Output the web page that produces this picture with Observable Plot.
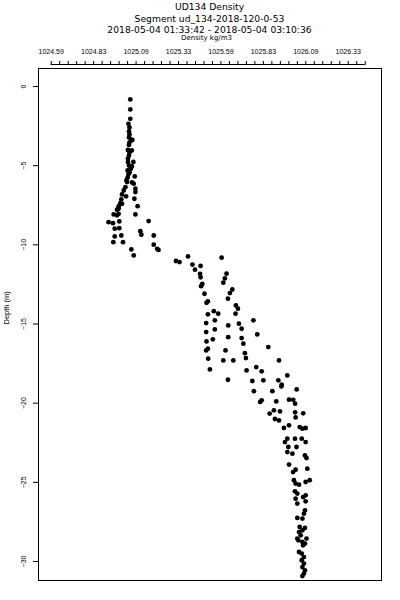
<!DOCTYPE html>
<html>
<head>
<meta charset="utf-8">
<script src="https://cdn.jsdelivr.net/npm/d3@7"></script>
<script src="https://cdn.jsdelivr.net/npm/@observablehq/plot@0.6"></script>
<style>
  html, body { margin: 0; padding: 0; background: #fff; }
  #wrap { width: 400px; height: 600px; position: relative; }
  #head { position: relative; width: 400px; height: 44px; font-family: "DejaVu Sans", sans-serif; }
  #head div { position: absolute; left: 0; width: 419px; text-align: center; color: #000; line-height: 1; white-space: nowrap; }
  #chart svg { display: block; }
</style>
</head>
<body>
<div id="wrap">
  <div id="head">
    <div id="t1" style="top:2px;font-size:9.2px;">UD134 Density</div>
    <div id="t2" style="top:13.8px;font-size:9.2px;">Segment ud_134-2018-120-0-53</div>
    <div id="t3" style="top:25.3px;font-size:9.2px;">2018-05-04 01:33:42 - 2018-05-04 03:10:36</div>
    <div id="t4" style="top:35.4px;font-size:7px;width:413px;">Density kg/m3</div>
  </div>
  <div id="chart"></div>
</div>
<script>
// ---- data ----
const density = [
  1025.051, 1025.051, 1025.051, 1025.040, 1025.046, 1025.043, 1025.046, 1025.043, 1025.054, 1025.063,
  1025.046, 1025.043, 1025.060, 1025.037, 1025.046, 1025.043, 1025.037, 1025.037, 1025.069, 1025.060,
  1025.043, 1025.054, 1025.035, 1025.047, 1025.040, 1025.077, 1025.035, 1025.028, 1025.061, 1025.032,
  1025.071, 1025.022, 1025.081, 1025.012, 1025.081, 1025.002, 1025.026, 1025.075, 1024.998, 1024.992,
  1025.002, 1025.094, 1024.982, 1024.973, 1024.982, 1024.953, 1024.973, 1024.982, 1025.081, 1024.923,
  1024.949, 1024.986, 1025.159, 1024.959, 1024.986, 1025.110, 1025.116, 1024.998, 1024.959, 1025.189,
  1024.951, 1025.008, 1025.189, 1025.209, 1025.217, 1025.057, 1025.071, 1025.391, 1025.589, 1025.320,
  1025.341, 1025.417, 1025.465, 1025.432, 1025.462, 1025.465, 1025.618, 1025.608, 1025.599, 1025.475,
  1025.468, 1025.652, 1025.638, 1025.488, 1025.626, 1025.500, 1025.508, 1025.673, 1025.685, 1025.543,
  1025.569, 1025.508, 1025.671, 1025.498, 1025.549, 1025.776, 1025.628, 1025.691, 1025.498, 1025.549,
  1025.707, 1025.799, 1025.500, 1025.537, 1025.628, 1025.707, 1025.717, 1025.498, 1025.508, 1025.612,
  1025.726, 1025.864, 1025.510, 1025.599, 1025.658, 1025.732, 1025.927, 1025.520, 1025.736, 1025.793,
  1025.825, 1025.626, 1025.770, 1025.835, 1025.923, 1025.976, 1025.943, 1025.941, 1025.779, 1025.888,
  1026.031, 1025.816, 1025.825, 1025.911, 1025.986, 1026.011, 1026.022, 1025.872, 1025.897, 1025.933,
  1026.022, 1026.070, 1025.903, 1026.025, 1025.927, 1025.986, 1025.956, 1026.049, 1026.084, 1026.065,
  1025.976, 1025.962, 1026.021, 1026.061, 1026.084, 1025.982, 1026.030, 1025.976, 1026.006, 1026.080,
  1026.089, 1025.986, 1026.010, 1026.025, 1026.094, 1026.015, 1026.025, 1026.045, 1026.084, 1026.108,
  1026.021, 1026.035, 1026.069, 1026.084, 1026.025, 1026.084, 1026.035, 1026.080, 1026.074, 1026.035,
  1026.065, 1026.049, 1026.080, 1026.065, 1026.045, 1026.055, 1026.089, 1026.041, 1026.065, 1026.080,
  1026.069, 1026.035, 1026.045, 1026.061, 1026.074, 1026.061, 1026.074, 1026.065, 1026.080, 1026.074,
  1026.065
];
const depth = [
  -0.82, -1.45, -2.04, -2.36, -2.59, -2.84, -3.03, -3.22, -3.35, -3.38,
  -3.54, -3.69, -4.04, -4.01, -4.17, -4.36, -4.55, -4.77, -4.77, -5.05,
  -4.99, -5.20, -5.30, -5.43, -5.56, -5.68, -5.76, -5.93, -6.06, -6.04,
  -6.14, -6.36, -6.46, -6.57, -6.67, -6.82, -6.94, -7.09, -7.13, -7.37,
  -7.41, -7.56, -7.58, -7.78, -7.72, -8.08, -8.14, -8.04, -8.08, -8.57,
  -8.63, -8.52, -8.50, -8.98, -8.95, -9.14, -9.36, -9.41, -9.47, -9.41,
  -9.83, -9.83, -9.99, -10.25, -10.32, -10.29, -10.67, -10.73, -10.81, -11.02,
  -11.09, -11.25, -11.33, -11.57, -11.84, -12.05, -11.82, -12.12, -12.39, -12.47,
  -12.61, -12.82, -13.05, -13.09, -13.40, -13.66, -13.57, -13.83, -14.03, -14.19,
  -14.35, -14.39, -14.35, -14.94, -14.77, -14.77, -15.09, -14.98, -15.51, -15.34,
  -15.30, -15.66, -16.10, -15.97, -15.83, -15.89, -16.24, -16.67, -16.56, -16.67,
  -16.84, -16.46, -17.19, -17.30, -17.30, -17.15, -17.30, -17.87, -17.93, -17.72,
  -17.99, -18.52, -18.60, -18.56, -18.56, -18.25, -18.83, -18.94, -19.24, -19.24,
  -19.13, -19.92, -19.82, -19.89, -19.78, -19.79, -20.03, -20.66, -20.45, -20.52,
  -20.58, -20.64, -21.00, -20.90, -21.09, -21.40, -21.57, -21.51, -21.57, -21.61,
  -22.24, -22.46, -22.24, -22.24, -22.46, -22.77, -22.77, -23.09, -23.19, -23.30,
  -23.47, -23.88, -24.35, -24.20, -24.14, -24.87, -25.08, -25.15, -24.98, -24.87,
  -25.57, -25.71, -25.93, -25.82, -26.03, -26.20, -26.34, -26.77, -26.98, -27.25,
  -27.29, -27.82, -27.88, -28.03, -28.14, -28.35, -28.55, -28.66, -28.77, -28.87,
  -28.98, -28.55, -29.40, -29.50, -29.72, -29.92, -30.13, -30.35, -30.56, -30.76,
  -30.92
];
// axis ticks
const xMajorTicks = [1024.585, 1024.835, 1025.085, 1025.335, 1025.585, 1025.835, 1026.085, 1026.335];
const xTickLabels = ["1024.59", "1024.83", "1025.09", "1025.33", "1025.59", "1025.83", "1026.09", "1026.33"];
const xMinorStep = 0.05;
const xMinorCount = 38;
const yTicks = [0, -5, -10, -15, -20, -25, -30];
const yLabel = "Depth (m)";

const points = density.map((d, i) => ({density: d, depth: depth[i]}));
const xMinorTicks = d3.range(xMinorCount).map(k => xMajorTicks[0] + k * xMinorStep);
const xDomain = [1024.510, 1026.531];
const yDomain = [-31.2, 1.136];

const chart = Plot.plot({
  width: 400,
  height: 556,
  marginTop: 24,
  marginBottom: 20,
  marginLeft: 38,
  marginRight: 19,
  style: {fontFamily: "'Liberation Sans', Arial, sans-serif", color: "#000", background: "#fff"},
  x: {domain: xDomain},
  y: {domain: yDomain},
  marks: [
    Plot.frame({stroke: "#000", strokeWidth: 1}),
    Plot.axisX({anchor: "top", ticks: xMinorTicks, tickSize: 4, dy: -4, tickFormat: () => "", label: null, stroke: "#000"}),
    Plot.ruleY([yDomain[1]], {x1: () => xMinorTicks[0], x2: () => xMinorTicks[xMinorCount - 1], dy: -4, stroke: "#000"}),
    Plot.axisX({anchor: "top", ticks: xMajorTicks, tickSize: 0, dy: -4, tickPadding: 11, fontSize: 7,
      tickFormat: d => xTickLabels[xMajorTicks.indexOf(d)], label: null, fill: "#000"}),
    Plot.axisY({anchor: "left", ticks: yTicks, tickSize: 5, tickPadding: 8, tickRotate: -90, fontSize: 7,
      label: null, stroke: "#000", fill: "#000"}),
    Plot.text([yLabel], {frameAnchor: "left", rotate: -90, dx: -31.5, fontSize: 7.5, fill: "#000"}),
    Plot.dot(points, {x: "density", y: "depth", r: 2.4, fill: "#000", stroke: "none"})
  ]
});
document.getElementById("chart").appendChild(chart);
</script>
</body>
</html>
